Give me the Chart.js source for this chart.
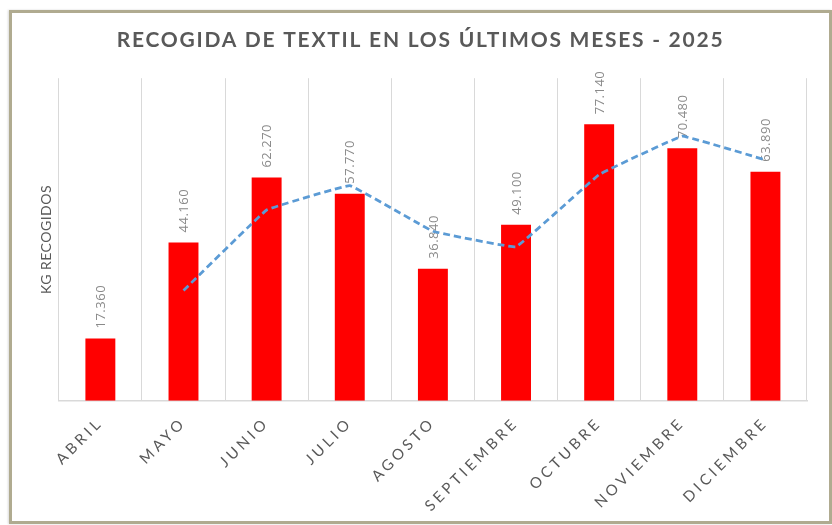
<!DOCTYPE html>
<html>
<head>
<meta charset="utf-8">
<script src="https://cdn.jsdelivr.net/npm/chart.js@4"></script>
<style>
  html, body { margin: 0; padding: 0; background: #fff; }
  #frame {
    position: absolute; left: 9px; top: 10px; width: 817px; height: 508px;
    border: 3px solid #b0ab90; box-shadow: -1px 0 2px rgba(0,0,0,0.15);
  }
  #wrap { position: absolute; left: 0; top: 0; width: 832px; height: 525px; }
</style>
</head>
<body>
<div id="frame"></div>
<div id="wrap"><canvas id="myChart" width="832" height="525"></canvas></div>
<script>
const meses = ['ABRIL', 'MAYO', 'JUNIO', 'JULIO', 'AGOSTO', 'SEPTIEMBRE', 'OCTUBRE', 'NOVIEMBRE', 'DICIEMBRE'];
const kgRecogidos = [17360, 44160, 62270, 57770, 36840, 49100, 77140, 70480, 63890];
// media móvil de 2 periodos (línea discontinua)
const mediaMovil = [null, 30760, 53215, 60020, 47305, 42970, 63120, 73810, 67185];

const gris = '#595959';
const espX = '3.6px';

function miles(v) {
  return String(v).replace(/\B(?=(\d{3})+(?!\d))/g, '.');
}

// envuelve un método de dibujo para aplicar espaciado de letras
function conEspaciado(obj, metodo, valor) {
  if (!obj || obj['_esp_' + metodo]) return;
  const orig = obj[metodo];
  obj[metodo] = function (...args) {
    const c = this.ctx;
    const prev = c.letterSpacing;
    c.letterSpacing = valor;
    orig.apply(this, args);
    c.letterSpacing = prev;
  };
  obj['_esp_' + metodo] = true;
}

const espaciado = {
  id: 'espaciado',
  beforeDraw(chart) {
    conEspaciado(chart.titleBlock, 'draw', '1.75px');
    conEspaciado(chart.scales.x, 'drawLabels', espX);
    conEspaciado(chart.scales.y, 'drawTitle', '0.5px');
  }
};

// etiquetas de valor verticales encima de cada barra
const etiquetas = {
  id: 'etiquetas',
  afterDatasetDraw(chart, args) {
    if (args.index !== 0) return;
    const ctx = chart.ctx;
    ctx.save();
    ctx.font = '13px "Open Sans"';
    ctx.letterSpacing = '0.5px';
    ctx.fillStyle = '#8a8a8a';
    ctx.textAlign = 'left';
    ctx.textBaseline = 'middle';
    args.meta.data.forEach((bar, i) => {
      ctx.save();
      ctx.translate(bar.x + 1, bar.y - 10);
      ctx.rotate(-Math.PI / 2);
      ctx.fillText(miles(kgRecogidos[i]), 0, 0);
      ctx.restore();
    });
    ctx.restore();
  }
};

const ctx = document.getElementById('myChart').getContext('2d');

new Chart(ctx, {
  type: 'bar',
  data: {
    labels: meses,
    datasets: [{
      label: 'KG recogidos',
      data: kgRecogidos,
      backgroundColor: '#ff0000',
      barPercentage: 0.36,
      categoryPercentage: 1,
      order: 1
    }, {
      type: 'line',
      label: 'Media móvil',
      data: mediaMovil,
      borderColor: '#5b9bd5',
      borderWidth: 2.75,
      borderDash: [7, 4],
      borderJoinStyle: 'round',
      pointRadius: 0,
      tension: 0.05,
      fill: false,
      order: 0
    }]
  },
  options: {
    responsive: false,
    animation: false,
    layout: { padding: { left: 34, right: 25, top: 10, bottom: -3 } },
    plugins: {
      legend: { display: false },
      tooltip: { enabled: false },
      title: {
        display: true,
        text: 'RECOGIDA DE TEXTIL EN LOS ÚLTIMOS MESES - 2025',
        color: gris,
        font: { family: 'Lato', size: 21, weight: 'bold' },
        padding: { top: 18, bottom: 25 }
      }
    },
    scales: {
      x: {
        grid: { display: true, color: '#d9d9d9', drawTicks: false, offset: true },
        border: { color: '#d9d9d9', width: 1.5 },
        ticks: {
          color: gris,
          font: { family: 'Lato', size: 15 },
          maxRotation: 45,
          minRotation: 45,
          padding: 13
        },
        beforeCalculateLabelRotation(scale) { scale.ctx.letterSpacing = espX; },
        afterFit(scale) {
          scale.paddingLeft = 0;
          scale.ctx.letterSpacing = '0px';
        }
      },
      y: {
        min: 0,
        max: 90000,
        grid: { display: false, drawTicks: false },
        border: { display: false },
        ticks: { display: false },
        title: {
          display: true,
          text: 'KG RECOGIDOS',
          color: gris,
          font: { family: 'Lato', size: 14 },
          padding: 4
        }
      }
    }
  },
  plugins: [espaciado, etiquetas]
});
</script>
</body>
</html>
